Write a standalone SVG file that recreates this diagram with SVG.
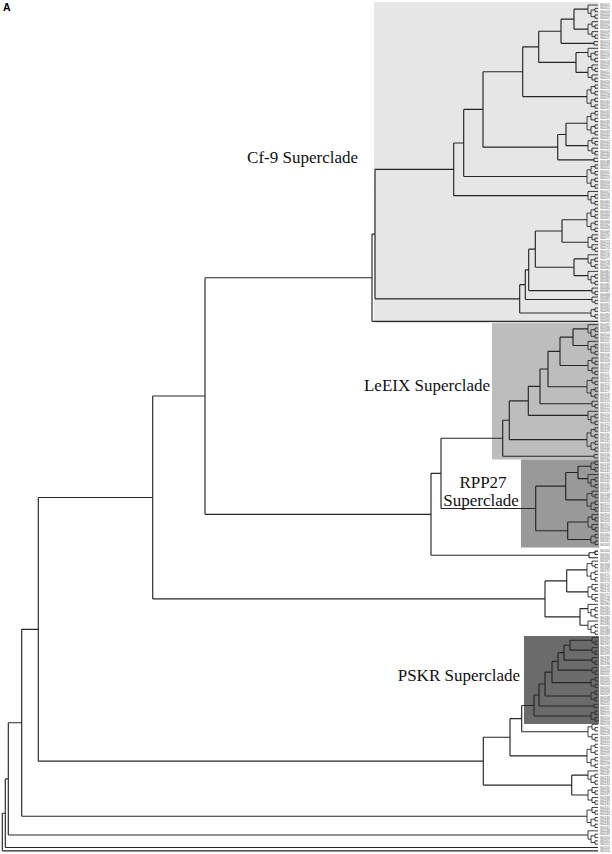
<svg xmlns="http://www.w3.org/2000/svg" width="612" height="854" viewBox="0 0 612 854">
<style>
.br{fill:none;stroke:#262626;stroke-width:1.15}
.lf{fill:none;stroke:#2a2a2a;stroke-width:0.9}
.cl{font-family:"Liberation Serif","Times New Roman",serif;font-size:17px;fill:#111}
.lb{font-family:"Liberation Sans",Arial,sans-serif;font-size:3.1px;fill:#555}
.pn{font-family:"Liberation Sans",Arial,sans-serif;font-size:10.5px;font-weight:bold;fill:#000}
</style>
<defs>
<g id="c2"><path class="lf" d="M-4,0H0M-4,3.33H0M-4,0V3.33"/></g>
<g id="c3"><path class="lf" d="M-6,0H0M-3,3.33H0M-3,6.66H0M-3,3.33V6.66M-6,4.995H-3M-6,0V4.995"/></g>
<g id="c4"><path class="lf" d="M-3,0H0M-3,3.33H0M-3,0V3.33M-3,6.66H0M-3,9.99H0M-3,6.66V9.99M-7,1.665H-3M-7,8.325H-3M-7,1.665V8.325"/></g>
<g id="c5"><path class="lf" d="M-10,0H0M-3,3.33H0M-3,6.66H0M-3,3.33V6.66M-3,9.99H0M-3,13.32H0M-3,9.99V13.32M-7,4.995H-3M-7,11.655H-3M-7,4.995V11.655M-10,8.325H-7M-10,0V8.325"/></g>
<g id="c6"><path class="lf" d="M-6,0H0M-3,3.33H0M-3,6.66H0M-3,3.33V6.66M-6,4.995H-3M-6,0V4.995M-6,9.99H0M-3,13.32H0M-3,16.65H0M-3,13.32V16.65M-6,14.985H-3M-6,9.99V14.985M-10,2.4975H-6M-10,12.4875H-6M-10,2.4975V12.4875"/></g>
<g id="c7"><path class="lf" d="M-6,0H0M-3,3.33H0M-3,6.66H0M-3,3.33V6.66M-6,4.995H-3M-6,0V4.995M-3,9.99H0M-3,13.32H0M-3,9.99V13.32M-3,16.65H0M-3,19.98H0M-3,16.65V19.98M-7,11.655H-3M-7,18.315H-3M-7,11.655V18.315M-11,2.4975H-6M-11,14.985H-7M-11,2.4975V14.985"/></g>
<g id="c8"><path class="lf" d="M-3,0H0M-3,3.33H0M-3,0V3.33M-3,6.66H0M-3,9.99H0M-3,6.66V9.99M-7,1.665H-3M-7,8.325H-3M-7,1.665V8.325M-3,13.32H0M-3,16.65H0M-3,13.32V16.65M-3,19.98H0M-3,23.31H0M-3,19.98V23.31M-7,14.985H-3M-7,21.645H-3M-7,14.985V21.645M-11,4.995H-7M-11,18.315H-7M-11,4.995V18.315"/></g>
</defs>
<rect width="612" height="854" fill="#fff"/>
<g id="cf9-superclade"><rect x="374" y="2" width="225" height="321" fill="#e6e6e6"/><text class="cl" x="358" y="163" text-anchor="end">Cf-9 Superclade</text></g>
<g id="leeix-superclade"><rect x="492" y="323" width="107" height="136.5" fill="#bdbdbd"/><text class="cl" x="490" y="391" text-anchor="end">LeEIX Superclade</text></g>
<g id="rpp27-superclade"><rect x="521" y="459.5" width="78" height="88" fill="#999"/><text class="cl" x="483" y="488" text-anchor="middle">RPP27</text><text class="cl" x="481" y="506" text-anchor="middle">Superclade</text></g>
<g id="pskr-superclade"><rect x="524" y="636" width="75" height="88" fill="#6b6b6b"/><text class="cl" x="520" y="681" text-anchor="end">PSKR Superclade</text></g>
<rect x="599" y="0" width="13" height="854" fill="#fff"/>
<g id="connectors">
<path class="br" d="M574,9.16V29.14M574,9.16H588M574,29.14H588M561,19.15V43.3M561,19.15H574M561,43.3H594M576,52.45V72.43M576,52.45H588M576,72.43H588M538.7,31.22V62.44M538.7,31.22H561M538.7,62.44H576M522.7,46.83V96.58M522.7,46.83H538.7M522.7,96.58H587M566,123.22V145.69M566,123.22H587M566,145.69H588M557.7,134.46V159.85M557.7,134.46H566M557.7,159.85H594M483,71.7V147.15M483,71.7H522.7M483,147.15H557.7M463.7,109.43V176.5M463.7,109.43H483M463.7,176.5H587M453.7,142.96V195.64M453.7,142.96H463.7M453.7,195.64H588M562,219.79V242.26M562,219.79H587M562,242.26H588M574,258.91V275.56M574,258.91H588M574,275.56H588M535.3,231.03V267.24M535.3,231.03H562M535.3,267.24H574M528.7,249.13V290.55M528.7,249.13H535.3M528.7,290.55H592M525.3,269.84V299.54M525.3,269.84H528.7M525.3,299.54H592M519.7,284.69V313.03M519.7,284.69H525.3M519.7,313.03H591M375,169.3V298.86M375,169.3H453.7M375,298.86H519.7M372,234.08V321.35M372,234.08H375M372,321.35H598"/>
<path class="br" d="M573,328.84V345.49M573,328.84H588M573,345.49H588M560,337.17V365.47M560,337.17H573M560,365.47H588M548,351.32V386.7M548,351.32H560M548,386.7H587M540,369.01V403.77M540,369.01H548M540,403.77H592M528.3,386.39V415.42M528.3,386.39H540M528.3,415.42H588M509.3,400.9V439.57M509.3,400.9H528.3M509.3,439.57H587M502.7,420.24V456.22M502.7,420.24H509.3M502.7,456.22H594"/>
<path class="br" d="M578,466.2V478.69M578,466.2H591M578,478.69H588M565.7,472.45V499.92M565.7,472.45H578M565.7,499.92H587M567.7,521.98V539.47M567.7,521.98H588M567.7,539.47H591M535.7,486.19V530.72M535.7,486.19H565.7M535.7,530.72H567.7M441,438.23V508.46M441,438.23H502.7M441,508.46H535.7M595,551.12V554.45M595,551.12H598M595,554.45H598M589,552.79V557.78M589,552.79H595M589,557.78H598M431,473.35V555.28M431,473.35H441M431,555.28H589M205,277.72V514.32M205,277.72H372M205,514.32H431"/>
<path class="br" d="M566.7,569.85V591.91M566.7,569.85H587M566.7,591.91H588M580,608.56V625.21M580,608.56H588M580,625.21H588M545,580.88V616.89M545,580.88H566.7M545,616.89H580M152.7,396V598.89M152.7,396H205M152.7,598.89H545"/>
<path class="br" d="M570,640.2V650.19M570,640.2H592M570,650.19H592M564,645.2V660.18M564,645.2H570M564,660.18H592M558,652.69V670.17M558,652.69H564M558,670.17H592M552,661.43V682.66M552,661.43H558M552,682.66H591M545,672.05V695.98M545,672.05H552M545,695.98H591M539,684.02V705.97M539,684.02H545M539,705.97H594M534,695V715.96M534,695H539M534,715.96H591M521.7,705.48V731.77M521.7,705.48H534M521.7,731.77H588M510,718.63V755.92M510,718.63H521.7M510,755.92H587M571.7,775.06V795.04M571.7,775.06H588M571.7,795.04H588M483.3,737.28V785.05M483.3,737.28H510M483.3,785.05H571.7M38.3,497.45V761.17M38.3,497.45H152.7M38.3,761.17H483.3M21.7,629.31V816.27M21.7,629.31H38.3M21.7,816.27H587M8.3,722.79V835M8.3,722.79H21.7M8.3,835H588M5.3,778.9V847.49M5.3,778.9H8.3M5.3,847.49H598M2.3,813.2V850.82M2.3,813.2H5.3M2.3,850.82H598"/>
<use href="#c5" x="598" y="5"/><use href="#c6" x="598" y="21.65"/><use href="#c2" x="598" y="41.63"/><use href="#c5" x="598" y="48.29"/><use href="#c6" x="598" y="64.94"/><use href="#c8" x="598" y="84.92"/><use href="#c8" x="598" y="111.56"/><use href="#c6" x="598" y="138.2"/><use href="#c2" x="598" y="158.18"/><use href="#c8" x="598" y="164.84"/><use href="#c5" x="598" y="191.48"/><use href="#c8" x="598" y="208.13"/><use href="#c6" x="598" y="234.77"/><use href="#c5" x="598" y="254.75"/><use href="#c5" x="598" y="271.4"/><use href="#c3" x="598" y="288.05"/><use href="#c3" x="598" y="297.04"/><use href="#c4" x="598" y="308.03"/>
<use href="#c5" x="598" y="324.68"/><use href="#c5" x="598" y="341.33"/><use href="#c6" x="598" y="357.98"/><use href="#c7" x="598" y="377.96"/><use href="#c3" x="598" y="401.27"/><use href="#c5" x="598" y="411.26"/><use href="#c8" x="598" y="427.91"/><use href="#c2" x="598" y="454.55"/>
<use href="#c4" x="598" y="461.21"/><use href="#c5" x="598" y="474.53"/><use href="#c7" x="598" y="491.18"/><use href="#c6" x="598" y="514.49"/><use href="#c4" x="598" y="534.47"/>
<use href="#c7" x="598" y="561.11"/><use href="#c6" x="598" y="584.42"/><use href="#c5" x="598" y="604.4"/><use href="#c5" x="598" y="621.05"/>
<use href="#c3" x="598" y="637.7"/><use href="#c3" x="598" y="647.69"/><use href="#c3" x="598" y="657.68"/><use href="#c3" x="598" y="667.67"/><use href="#c4" x="598" y="677.66"/><use href="#c4" x="598" y="690.98"/><use href="#c2" x="598" y="704.3"/><use href="#c4" x="598" y="710.96"/>
<use href="#c6" x="598" y="724.28"/><use href="#c8" x="598" y="744.26"/><use href="#c5" x="598" y="770.9"/><use href="#c6" x="598" y="787.55"/><use href="#c7" x="598" y="807.53"/><use href="#c5" x="598" y="830.84"/>
</g>
<g id="leaf-labels">
<text class="lb" x="600" y="6.1">Sl0001<tspan x="600" dy="3.33">Sl0002</tspan><tspan x="600" dy="3.33">Sl0003</tspan><tspan x="600" dy="3.33">Sl0004</tspan><tspan x="600" dy="3.33">Sl0005</tspan><tspan x="600" dy="3.33">Sl0006</tspan><tspan x="600" dy="3.33">Sl0007</tspan><tspan x="600" dy="3.33">Sl0008</tspan><tspan x="600" dy="3.33">Sl0009</tspan><tspan x="600" dy="3.33">Sl0010</tspan><tspan x="600" dy="3.33">Sl0011</tspan><tspan x="600" dy="3.33">Sl0012</tspan><tspan x="600" dy="3.33">Sl0013</tspan><tspan x="600" dy="3.33">Sl0014</tspan><tspan x="600" dy="3.33">Sl0015</tspan><tspan x="600" dy="3.33">Sl0016</tspan><tspan x="600" dy="3.33">Sl0017</tspan><tspan x="600" dy="3.33">Sl0018</tspan><tspan x="600" dy="3.33">Sl0019</tspan><tspan x="600" dy="3.33">Sl0020</tspan><tspan x="600" dy="3.33">Sl0021</tspan><tspan x="600" dy="3.33">Sl0022</tspan><tspan x="600" dy="3.33">Sl0023</tspan><tspan x="600" dy="3.33">Sl0024</tspan><tspan x="600" dy="3.33">Sl0025</tspan><tspan x="600" dy="3.33">Sl0026</tspan><tspan x="600" dy="3.33">Sl0027</tspan><tspan x="600" dy="3.33">Sl0028</tspan><tspan x="600" dy="3.33">Sl0029</tspan><tspan x="600" dy="3.33">Sl0030</tspan><tspan x="600" dy="3.33">Sl0031</tspan><tspan x="600" dy="3.33">Sl0032</tspan><tspan x="600" dy="3.33">Sl0033</tspan><tspan x="600" dy="3.33">Sl0034</tspan><tspan x="600" dy="3.33">Sl0035</tspan><tspan x="600" dy="3.33">Sl0036</tspan><tspan x="600" dy="3.33">Sl0037</tspan><tspan x="600" dy="3.33">Sl0038</tspan><tspan x="600" dy="3.33">Sl0039</tspan><tspan x="600" dy="3.33">Sl0040</tspan><tspan x="600" dy="3.33">Sl0041</tspan><tspan x="600" dy="3.33">Sl0042</tspan><tspan x="600" dy="3.33">Sl0043</tspan><tspan x="600" dy="3.33">Sl0044</tspan><tspan x="600" dy="3.33">Sl0045</tspan><tspan x="600" dy="3.33">Sl0046</tspan><tspan x="600" dy="3.33">Sl0047</tspan><tspan x="600" dy="3.33">Sl0048</tspan><tspan x="600" dy="3.33">Sl0049</tspan><tspan x="600" dy="3.33">Sl0050</tspan><tspan x="600" dy="3.33">Sl0051</tspan><tspan x="600" dy="3.33">Sl0052</tspan><tspan x="600" dy="3.33">Sl0053</tspan><tspan x="600" dy="3.33">Sl0054</tspan><tspan x="600" dy="3.33">Sl0055</tspan><tspan x="600" dy="3.33">Sl0056</tspan><tspan x="600" dy="3.33">Sl0057</tspan><tspan x="600" dy="3.33">Sl0058</tspan><tspan x="600" dy="3.33">Sl0059</tspan><tspan x="600" dy="3.33">Sl0060</tspan><tspan x="600" dy="3.33">Sl0061</tspan><tspan x="600" dy="3.33">Sl0062</tspan><tspan x="600" dy="3.33">Sl0063</tspan><tspan x="600" dy="3.33">Sl0064</tspan><tspan x="600" dy="3.33">Sl0065</tspan><tspan x="600" dy="3.33">Sl0066</tspan><tspan x="600" dy="3.33">Sl0067</tspan><tspan x="600" dy="3.33">Sl0068</tspan><tspan x="600" dy="3.33">Sl0069</tspan><tspan x="600" dy="3.33">Sl0070</tspan><tspan x="600" dy="3.33">Sl0071</tspan><tspan x="600" dy="3.33">Sl0072</tspan><tspan x="600" dy="3.33">Sl0073</tspan><tspan x="600" dy="3.33">Sl0074</tspan><tspan x="600" dy="3.33">Sl0075</tspan><tspan x="600" dy="3.33">Sl0076</tspan><tspan x="600" dy="3.33">Sl0077</tspan><tspan x="600" dy="3.33">Sl0078</tspan><tspan x="600" dy="3.33">Sl0079</tspan><tspan x="600" dy="3.33">Sl0080</tspan><tspan x="600" dy="3.33">Sl0081</tspan><tspan x="600" dy="3.33">Sl0082</tspan><tspan x="600" dy="3.33">Sl0083</tspan><tspan x="600" dy="3.33">Sl0084</tspan><tspan x="600" dy="3.33">Sl0085</tspan><tspan x="600" dy="3.33">Sl0086</tspan><tspan x="600" dy="3.33">Sl0087</tspan><tspan x="600" dy="3.33">Sl0088</tspan><tspan x="600" dy="3.33">Sl0089</tspan><tspan x="600" dy="3.33">Sl0090</tspan><tspan x="600" dy="3.33">Sl0091</tspan><tspan x="600" dy="3.33">Sl0092</tspan><tspan x="600" dy="3.33">Sl0093</tspan><tspan x="600" dy="3.33">Sl0094</tspan><tspan x="600" dy="3.33">Sl0095</tspan><tspan x="600" dy="3.33">Sl0096</tspan><tspan x="600" dy="3.33">Sl0097</tspan><tspan x="600" dy="3.33">Sl0098</tspan><tspan x="600" dy="3.33">Sl0099</tspan><tspan x="600" dy="3.33">Sl0100</tspan><tspan x="600" dy="3.33">Sl0101</tspan><tspan x="600" dy="3.33">Sl0102</tspan><tspan x="600" dy="3.33">Sl0103</tspan><tspan x="600" dy="3.33">Sl0104</tspan><tspan x="600" dy="3.33">Sl0105</tspan><tspan x="600" dy="3.33">Sl0106</tspan><tspan x="600" dy="3.33">Sl0107</tspan><tspan x="600" dy="3.33">Sl0108</tspan><tspan x="600" dy="3.33">Sl0109</tspan><tspan x="600" dy="3.33">Sl0110</tspan><tspan x="600" dy="3.33">Sl0111</tspan><tspan x="600" dy="3.33">Sl0112</tspan><tspan x="600" dy="3.33">Sl0113</tspan><tspan x="600" dy="3.33">Sl0114</tspan><tspan x="600" dy="3.33">Sl0115</tspan><tspan x="600" dy="3.33">Sl0116</tspan><tspan x="600" dy="3.33">Sl0117</tspan><tspan x="600" dy="3.33">Sl0118</tspan><tspan x="600" dy="3.33">Sl0119</tspan><tspan x="600" dy="3.33">Sl0120</tspan><tspan x="600" dy="3.33">Sl0121</tspan><tspan x="600" dy="3.33">Sl0122</tspan><tspan x="600" dy="3.33">Sl0123</tspan><tspan x="600" dy="3.33">Sl0124</tspan><tspan x="600" dy="3.33">Sl0125</tspan><tspan x="600" dy="3.33">Sl0126</tspan><tspan x="600" dy="3.33">Sl0127</tspan><tspan x="600" dy="3.33">Sl0128</tspan><tspan x="600" dy="3.33">Sl0129</tspan><tspan x="600" dy="3.33">Sl0130</tspan><tspan x="600" dy="3.33">Sl0131</tspan><tspan x="600" dy="3.33">Sl0132</tspan><tspan x="600" dy="3.33">Sl0133</tspan><tspan x="600" dy="3.33">Sl0134</tspan><tspan x="600" dy="3.33">Sl0135</tspan><tspan x="600" dy="3.33">Sl0136</tspan><tspan x="600" dy="3.33">Sl0137</tspan><tspan x="600" dy="3.33">Sl0138</tspan><tspan x="600" dy="3.33">Sl0139</tspan><tspan x="600" dy="3.33">Sl0140</tspan><tspan x="600" dy="3.33">Sl0141</tspan><tspan x="600" dy="3.33">Sl0142</tspan><tspan x="600" dy="3.33">Sl0143</tspan><tspan x="600" dy="3.33">Sl0144</tspan><tspan x="600" dy="3.33">Sl0145</tspan><tspan x="600" dy="3.33">Sl0146</tspan><tspan x="600" dy="3.33">Sl0147</tspan><tspan x="600" dy="3.33">Sl0148</tspan><tspan x="600" dy="3.33">Sl0149</tspan><tspan x="600" dy="3.33">Sl0150</tspan><tspan x="600" dy="3.33">Sl0151</tspan><tspan x="600" dy="3.33">Sl0152</tspan><tspan x="600" dy="3.33">Sl0153</tspan><tspan x="600" dy="3.33">Sl0154</tspan><tspan x="600" dy="3.33">Sl0155</tspan><tspan x="600" dy="3.33">Sl0156</tspan><tspan x="600" dy="3.33">Sl0157</tspan><tspan x="600" dy="3.33">Sl0158</tspan><tspan x="600" dy="3.33">Sl0159</tspan><tspan x="600" dy="3.33">Sl0160</tspan><tspan x="600" dy="3.33">Sl0161</tspan><tspan x="600" dy="3.33">Sl0162</tspan><tspan x="600" dy="3.33">Sl0163</tspan><tspan x="600" dy="6.66">Sl0164</tspan><tspan x="600" dy="3.33">Sl0165</tspan><tspan x="600" dy="3.33">Sl0166</tspan><tspan x="600" dy="3.33">Sl0167</tspan><tspan x="600" dy="3.33">Sl0168</tspan><tspan x="600" dy="3.33">Sl0169</tspan><tspan x="600" dy="3.33">Sl0170</tspan><tspan x="600" dy="3.33">Sl0171</tspan><tspan x="600" dy="3.33">Sl0172</tspan><tspan x="600" dy="3.33">Sl0173</tspan><tspan x="600" dy="3.33">Sl0174</tspan><tspan x="600" dy="3.33">Sl0175</tspan><tspan x="600" dy="3.33">Sl0176</tspan><tspan x="600" dy="3.33">Sl0177</tspan><tspan x="600" dy="3.33">Sl0178</tspan><tspan x="600" dy="3.33">Sl0179</tspan><tspan x="600" dy="3.33">Sl0180</tspan><tspan x="600" dy="3.33">Sl0181</tspan><tspan x="600" dy="3.33">Sl0182</tspan><tspan x="600" dy="3.33">Sl0183</tspan><tspan x="600" dy="3.33">Sl0184</tspan><tspan x="600" dy="3.33">Sl0185</tspan><tspan x="600" dy="3.33">Sl0186</tspan><tspan x="600" dy="3.33">Sl0187</tspan><tspan x="600" dy="3.33">Sl0188</tspan><tspan x="600" dy="3.33">Sl0189</tspan><tspan x="600" dy="3.33">Sl0190</tspan><tspan x="600" dy="3.33">Sl0191</tspan><tspan x="600" dy="3.33">Sl0192</tspan><tspan x="600" dy="3.33">Sl0193</tspan><tspan x="600" dy="3.33">Sl0194</tspan><tspan x="600" dy="3.33">Sl0195</tspan><tspan x="600" dy="3.33">Sl0196</tspan><tspan x="600" dy="3.33">Sl0197</tspan><tspan x="600" dy="3.33">Sl0198</tspan><tspan x="600" dy="3.33">Sl0199</tspan><tspan x="600" dy="3.33">Sl0200</tspan><tspan x="600" dy="3.33">Sl0201</tspan><tspan x="600" dy="3.33">Sl0202</tspan><tspan x="600" dy="3.33">Sl0203</tspan><tspan x="600" dy="3.33">Sl0204</tspan><tspan x="600" dy="3.33">Sl0205</tspan><tspan x="600" dy="3.33">Sl0206</tspan><tspan x="600" dy="3.33">Sl0207</tspan><tspan x="600" dy="3.33">Sl0208</tspan><tspan x="600" dy="3.33">Sl0209</tspan><tspan x="600" dy="3.33">Sl0210</tspan><tspan x="600" dy="3.33">Sl0211</tspan><tspan x="600" dy="3.33">Sl0212</tspan><tspan x="600" dy="3.33">Sl0213</tspan><tspan x="600" dy="3.33">Sl0214</tspan><tspan x="600" dy="3.33">Sl0215</tspan><tspan x="600" dy="3.33">Sl0216</tspan><tspan x="600" dy="3.33">Sl0217</tspan><tspan x="600" dy="3.33">Sl0218</tspan><tspan x="600" dy="3.33">Sl0219</tspan><tspan x="600" dy="3.33">Sl0220</tspan><tspan x="600" dy="3.33">Sl0221</tspan><tspan x="600" dy="3.33">Sl0222</tspan><tspan x="600" dy="3.33">Sl0223</tspan><tspan x="600" dy="3.33">Sl0224</tspan><tspan x="600" dy="3.33">Sl0225</tspan><tspan x="600" dy="3.33">Sl0226</tspan><tspan x="600" dy="3.33">Sl0227</tspan><tspan x="600" dy="3.33">Sl0228</tspan><tspan x="600" dy="3.33">Sl0229</tspan><tspan x="600" dy="3.33">Sl0230</tspan><tspan x="600" dy="3.33">Sl0231</tspan><tspan x="600" dy="3.33">Sl0232</tspan><tspan x="600" dy="3.33">Sl0233</tspan><tspan x="600" dy="3.33">Sl0234</tspan><tspan x="600" dy="3.33">Sl0235</tspan><tspan x="600" dy="3.33">Sl0236</tspan><tspan x="600" dy="3.33">Sl0237</tspan><tspan x="600" dy="3.33">Sl0238</tspan><tspan x="600" dy="3.33">Sl0239</tspan><tspan x="600" dy="3.33">Sl0240</tspan><tspan x="600" dy="3.33">Sl0241</tspan><tspan x="600" dy="3.33">Sl0242</tspan><tspan x="600" dy="3.33">Sl0243</tspan><tspan x="600" dy="3.33">Sl0244</tspan><tspan x="600" dy="3.33">Sl0245</tspan><tspan x="600" dy="3.33">Sl0246</tspan><tspan x="600" dy="3.33">Sl0247</tspan><tspan x="600" dy="3.33">Sl0248</tspan><tspan x="600" dy="3.33">Sl0249</tspan><tspan x="600" dy="3.33">Sl0250</tspan><tspan x="600" dy="3.33">Sl0251</tspan><tspan x="600" dy="3.33">Sl0252</tspan><tspan x="600" dy="3.33">Sl0253</tspan><tspan x="600" dy="3.33">Sl0254</tspan></text>
</g>
<text class="pn" x="3" y="10.7">A</text>
</svg>
